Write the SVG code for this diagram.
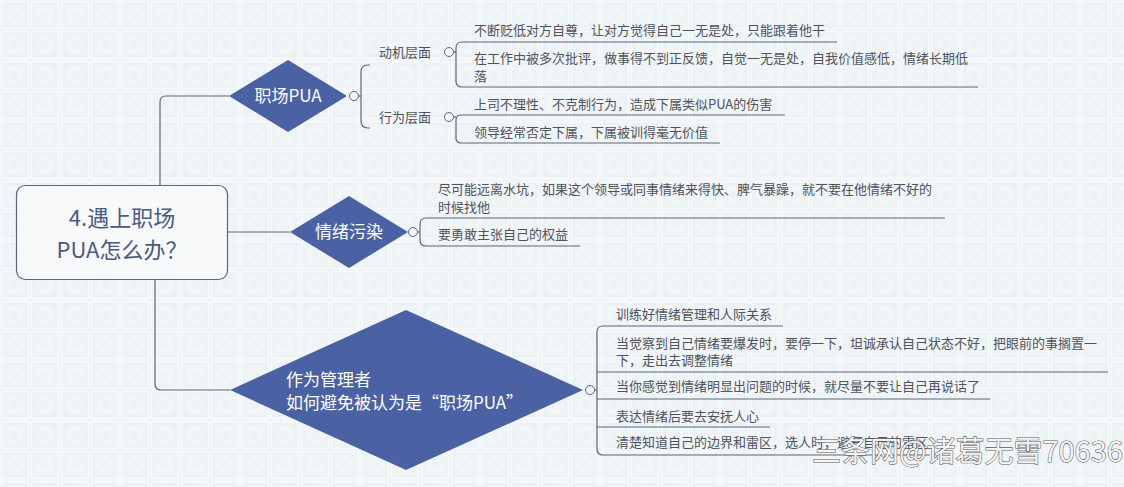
<svg xmlns="http://www.w3.org/2000/svg" width="1124" height="487" viewBox="0 0 1124 487">
<defs>
<pattern id="bg" width="30" height="30" patternUnits="userSpaceOnUse">
<rect width="30" height="30" fill="#eff4f7"/>
<rect x="1.5" y="1.5" width="27" height="27" fill="none" stroke="#f8fafb" stroke-width="1.2"/>
<rect x="4.5" y="4.5" width="21" height="21" fill="none" stroke="#e8eef2" stroke-width="0.6"/>
<path d="M15,7 L23,15 L15,23 L7,15 Z" fill="none" stroke="#f7f9fb" stroke-width="1"/>
<circle cx="15" cy="15" r="3" fill="none" stroke="#e8eef2" stroke-width="0.6"/>
</pattern>
<style>
.ln{fill:none;stroke:#5a6682;stroke-width:1.2}
.dm{fill:#4a62a4}
.dt{font-family:"Noto Sans CJK SC","Noto Sans",sans-serif;font-size:17px;fill:#ffffff}
.tx{font-family:"Noto Sans CJK SC","Noto Sans",sans-serif;font-size:13px;fill:#4f535c}
.cc{fill:#f4f6f8;stroke:#5a6682;stroke-width:1}
</style>
</defs>
<rect width="1124" height="487" fill="url(#bg)"/>

<g id="connectors">
<path class="ln" d="M160,185 V102 Q160,96 166,96 H229"/>
<path class="ln" d="M228,232 H290"/>
<path class="ln" d="M155,280 V384 Q155,390 161,390 H230"/>
<path class="ln" d="M358.5,96 H361"/>
<path class="ln" d="M370,65 H368 Q361,65 361,72 V121 Q361,128 368,128 H370"/>
<path class="ln" d="M453.5,52 H456"/>
<path class="ln" d="M837,42 H462 Q456,42 456,48 V81 Q456,87 462,87 H978"/>
<path class="ln" d="M453.5,117 H456"/>
<path class="ln" d="M785,115 H461 Q456,115 456,120 V138 Q456,143 461,143 H720"/>
<path class="ln" d="M417.5,232 H420"/>
<path class="ln" d="M945,218 H426 Q420,218 420,224 V240 Q420,246 426,246 H580"/>
<path class="ln" d="M594.5,390 H597"/>
<path class="ln" d="M783,326 H603 Q597,326 597,332 V449 Q597,455 603,455 H930"/>
<path class="ln" d="M597,372 H1108"/>
<path class="ln" d="M597,399 H990"/>
<path class="ln" d="M597,427 H770"/>
</g>

<g id="root">
<rect x="16.5" y="185.5" width="211" height="94" rx="9" fill="#f7f9fb" fill-opacity="0.9" stroke="#5a6682" stroke-width="1.2"/>
<text x="122" y="226" text-anchor="middle" font-family="'Noto Sans CJK SC','Noto Sans',sans-serif" font-size="22" fill="#4b5a82">4.遇上职场</text>
<text x="122" y="258" text-anchor="middle" font-family="'Noto Sans CJK SC','Noto Sans',sans-serif" font-size="22" fill="#4b5a82">PUA怎么办？</text>
</g>

<g id="n-pua">
<polygon class="dm" points="229,96 288,60 347,96 288,132"/>
<text class="dt" x="288" y="102" text-anchor="middle">职场PUA</text>
<circle class="cc" cx="354" cy="96" r="4.5"/>
</g>

<g id="n-motive">
<text class="tx" x="379" y="57">动机层面</text>
<circle class="cc" cx="449" cy="52" r="4.5"/>
</g>
<g id="n-motive-1"><text class="tx" x="474" y="35">不断贬低对方自尊，让对方觉得自己一无是处，只能跟着他干</text></g>
<g id="n-motive-2"><text class="tx" x="474" y="63">在工作中被多次批评，做事得不到正反馈，自觉一无是处，自我价值感低，情绪长期低</text><text class="tx" x="474" y="81">落</text></g>

<g id="n-behavior">
<text class="tx" x="379" y="122">行为层面</text>
<circle class="cc" cx="449" cy="117" r="4.5"/>
</g>
<g id="n-behavior-1"><text class="tx" x="474" y="109">上司不理性、不克制行为，造成下属类似PUA的伤害</text></g>
<g id="n-behavior-2"><text class="tx" x="474" y="137">领导经常否定下属，下属被训得毫无价值</text></g>

<g id="n-emotion">
<polygon class="dm" points="290,232 349,196 408,232 349,268"/>
<text class="dt" x="349" y="238" text-anchor="middle">情绪污染</text>
<circle class="cc" cx="413" cy="232" r="4.5"/>
</g>
<g id="n-emotion-1"><text class="tx" x="438" y="194">尽可能远离水坑，如果这个领导或同事情绪来得快、脾气暴躁，就不要在他情绪不好的</text><text class="tx" x="438" y="212">时候找他</text></g>
<g id="n-emotion-2"><text class="tx" x="438" y="239">要勇敢主张自己的权益</text></g>

<g id="n-manager">
<polygon class="dm" points="230,390 406,310 583,390 406,470"/>
<text class="dt" x="286" y="386">作为管理者</text>
<text class="dt" x="286" y="409">如何避免被认为是“职场PUA”</text>
<circle class="cc" cx="590" cy="390" r="4.5"/>
</g>
<g id="n-manager-1"><text class="tx" x="616" y="319">训练好情绪管理和人际关系</text></g>
<g id="n-manager-2"><text class="tx" x="616" y="348">当觉察到自己情绪要爆发时，要停一下，坦诚承认自己状态不好，把眼前的事搁置一</text><text class="tx" x="616" y="365">下，走出去调整情绪</text></g>
<g id="n-manager-3"><text class="tx" x="616" y="391">当你感觉到情绪明显出问题的时候，就尽量不要让自己再说话了</text></g>
<g id="n-manager-4"><text class="tx" x="616" y="421">表达情绪后要去安抚人心</text></g>
<g id="n-manager-5"><text class="tx" x="616" y="447">清楚知道自己的边界和雷区，选人时，避开自己的雷区</text></g>

<text x="812" y="462" font-family="'Noto Sans CJK SC','Noto Sans',sans-serif" font-size="29" fill="#f4f4f4" stroke="#5a5a5a" stroke-width="1.1" paint-order="stroke">三条网@诸葛无雪70636</text>
</svg>
